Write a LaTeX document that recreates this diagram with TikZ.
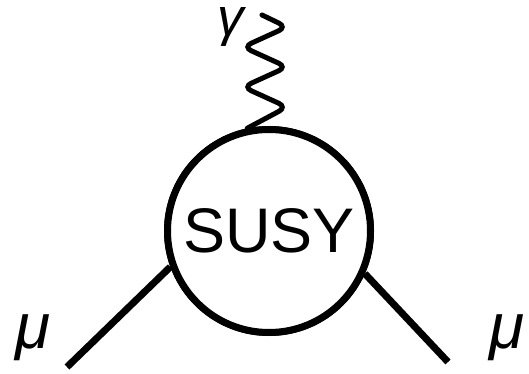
\documentclass[tikz,border=0pt]{standalone}
\usepackage{fontspec}
\setmainfont{Liberation Sans}
\begin{document}
\begin{tikzpicture}[x=1pt,y=-1pt,
  leg/.style={line width=7pt},
  wave/.style={line width=5pt, rounded corners=9pt, line cap=round},
  blob/.style={circle, draw, line width=7pt, fill=white, minimum size=203pt, inner sep=0pt},
  lbl/.style={inner sep=0pt}]
\useasboundingbox (0,0) rectangle (529,374);
\coordinate (mul) at (67,367);
\coordinate (mur) at (448,362);
\coordinate (gtop) at (262,15);
\node[blob] (susy) at (269,231) {\fontsize{63}{63}\selectfont SUSY};
\draw[leg] (mul) -- (susy.200);
\draw[leg] (mur) -- (susy.336);
\draw[wave] (susy.102) -- (287,107) -- (243,87) -- (287,67) -- (243,47) -- (287,27) -- (gtop);
\node[blob] at (susy) {\fontsize{63}{63}\selectfont SUSY};
\node[lbl, text height=28pt, text depth=11pt] (gamma) at (231,27.5) {\fontsize{53}{53}\selectfont\itshape γ};
\node[lbl, text height=33pt, text depth=14pt] (mu1) at (33.5,338.5) {\fontsize{64}{64}\selectfont\itshape μ};
\node[lbl, text height=33pt, text depth=14pt] (mu2) at (507.5,338.5) {\fontsize{64}{64}\selectfont\itshape μ};
\end{tikzpicture}
\end{document}
